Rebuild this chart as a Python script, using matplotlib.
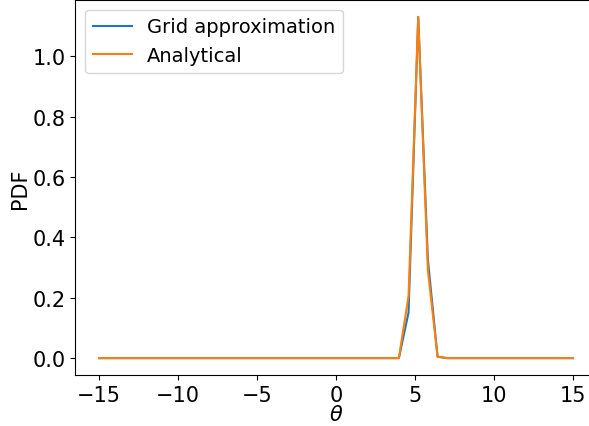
import numpy as np
import matplotlib
matplotlib.use("Agg")
import matplotlib.pyplot as plt

# grid of theta values used for the posterior
theta = np.linspace(-15, 15, 50)

# posterior evaluated on the grid (non-zero only near the peak)
grid_pdf = np.zeros(50)
grid_pdf[31:36] = [0.0, 0.151, 1.13, 0.325, 0.005]

analytic_pdf = np.zeros(50)
analytic_pdf[31:36] = [0.0, 0.206, 1.13, 0.29, 0.004]

plt.rcParams['font.size'] = 15
plt.rcParams['legend.fontsize'] = 14

fig = plt.figure(figsize=(5.89, 4.27), dpi=100)
ax = fig.add_axes([0.128, 0.119, 0.885, 0.879])

ax.plot(theta, grid_pdf, label='Grid approximation')
ax.plot(theta, analytic_pdf, label='Analytical')
ax.set_xlabel(r'$\theta$', labelpad=-1)
ax.set_ylabel('PDF', labelpad=2)
ax.legend(loc='upper left')

fig.savefig('out.png', dpi=100)
